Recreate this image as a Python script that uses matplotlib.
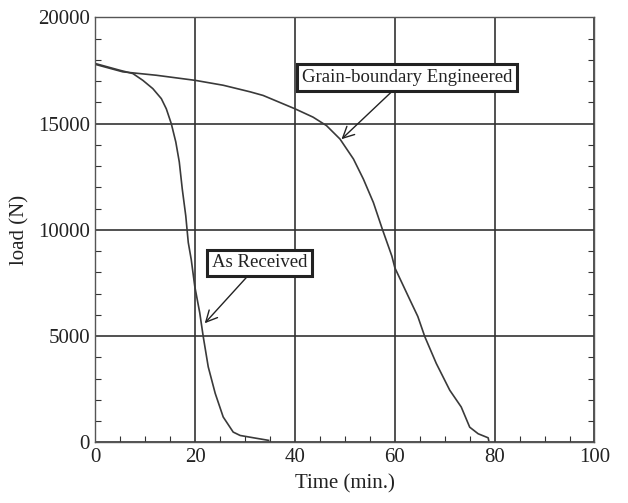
import matplotlib
matplotlib.use("Agg")
import matplotlib.pyplot as plt
from matplotlib.ticker import MultipleLocator

plt.rcParams['font.family'] = ['Liberation Serif', 'DejaVu Serif']

# As Received series (time in min, load in N)
ar_time = [0, 4.8, 7.5, 9.5, 11.5, 13.2, 14.2, 15.2, 16.1, 16.8, 17.4, 18.1, 18.6,
           19.2, 19.9, 20.9, 21.6, 22.6, 24.0, 25.6, 27.6, 29.0, 31.7, 34.7]
ar_load = [17830, 17520, 17360, 17040, 16650, 16180, 15700, 15000, 14140, 13200, 11920, 10660, 9410,
           8600, 7350, 6100, 4980, 3560, 2310, 1200, 490, 330, 220, 100]

# Grain-boundary Engineered series
gbe_time = [0, 5.5, 12.2, 20.0, 25.6, 31.0, 33.6, 40.0, 43.6, 46.3, 49.0, 51.7, 53.7, 55.7,
            57.5, 59.4, 60.0, 63.0, 64.6, 66.0, 68.3, 71.0, 73.3, 75.0, 76.7, 78.7, 78.8]
gbe_load = [17790, 17440, 17280, 17040, 16810, 16500, 16330, 15700, 15310, 14910, 14280, 13340, 12390, 11290,
            10030, 8770, 8220, 6720, 5930, 4980, 3720, 2460, 1670, 720, 410, 220, 100]

x_ticks = [0, 20, 40, 60, 80, 100]
y_ticks = [0, 5000, 10000, 15000, 20000]

fig = plt.figure(figsize=(6.28, 5.03), dpi=100)
ax = fig.add_axes([0.152, 0.1203, 0.7946, 0.845])

line_color = '#3a3a3a'
ax.plot(ar_time, ar_load, color=line_color, lw=1.2)
ax.plot(gbe_time, gbe_load, color=line_color, lw=1.2)

ax.set_xlim(0, 100)
ax.set_ylim(0, 20000)
ax.set_xticks(x_ticks)
ax.set_yticks(y_ticks)
ax.set_xticklabels([str(t) for t in x_ticks])
ax.set_yticklabels([str(t) for t in y_ticks])
ax.xaxis.set_minor_locator(MultipleLocator(5))
ax.yaxis.set_minor_locator(MultipleLocator(1000))
ax.tick_params(which='both', direction='in', labelsize=15, colors='#333333')
ax.tick_params(which='major', length=0, pad=4)
ax.tick_params(which='minor', length=4, width=0.8, right=True, top=False)
for lbl in ax.get_xticklabels() + ax.get_yticklabels():
    lbl.set_color('#222222')

ax.grid(True, which='major', color='#333333', lw=1.2)
for s in ax.spines.values():
    s.set_color('#555555')
    s.set_linewidth(1.0)

ax.set_xlabel('Time (min.)', fontsize=15, color='#222222', labelpad=5.5)
ax.set_ylabel('load (N)', fontsize=15, color='#222222', labelpad=6)

bbox = dict(boxstyle='square,pad=0.25', fc='white', ec='#222222', lw=2.2)
arrow = dict(arrowstyle='->,head_length=0.6,head_width=0.3', color='#222222', lw=1, shrinkA=0, shrinkB=0)
ax.annotate('Grain-boundary Engineered', xy=(49.3, 14270), xytext=(62.4, 17180),
            ha='center', va='center', fontsize=13.5, color='#222222', bbox=bbox, arrowprops=arrow)
ax.annotate('As Received', xy=(21.9, 5610), xytext=(32.9, 8450),
            ha='center', va='center', fontsize=13.5, color='#222222', bbox=bbox, arrowprops=arrow)

fig.savefig('out.png', dpi=100)
